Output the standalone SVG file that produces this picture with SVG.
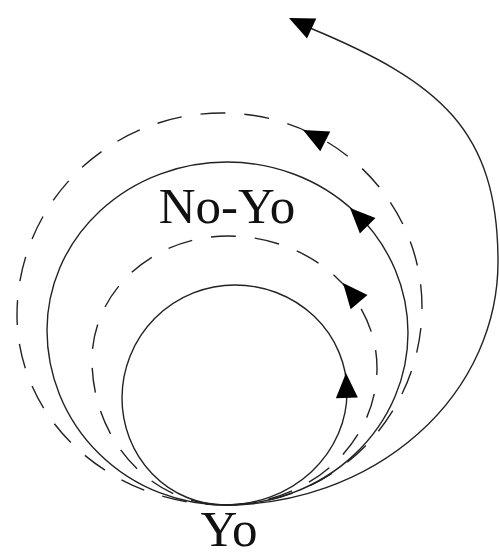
<svg xmlns="http://www.w3.org/2000/svg" xmlns:xlink="http://www.w3.org/1999/xlink" width="500" height="558" viewBox="0 0 500 558">
<style>
.ln{fill:none;stroke:#222;stroke-width:1.4}
.ds{stroke-dasharray:25 19}
.ah{fill:#000}
.lbl{font-family:"Liberation Serif","Times New Roman",serif;font-size:51px;fill:#111;text-anchor:middle}
</style>
<defs>
<path id="ah" d="M0,0 L-25,-11 L-25,11 Z"/>
</defs>
<rect width="500" height="558" fill="#fff"/>
<g id="connectors">
<path id="inner-solid" class="ln" d="M225,505 A122,113 0 0 0 347,392 A112,107 0 0 0 235,285 A113,113 0 0 0 122,398 A103,107 0 0 0 225,505"/>
<path id="inner-dashed" class="ln ds" d="M225,505 A152,137 0 0 0 377,368 A149,132 0 0 0 228,236 A136,124 0 0 0 92,360 A133,145 0 0 0 225,505"/>
<path id="middle-solid" class="ln" d="M225,505 A183,172 0 0 0 408,333 A181,171 0 0 0 227,162 A180,168 0 0 0 47,330 A178,175 0 0 0 225,505"/>
<path id="outer-dashed" class="ln ds" d="M225,505 A197,198 0 0 0 422,307 A200,194 0 0 0 222,113 A205,202 0 0 0 17,315 A208,190 0 0 0 225,505"/>
<path id="outer-solid" class="ln" d="M225,505 A273,243 0 0 0 498,262 C498,130 440,82 310,28"/>
<use href="#ah" class="ah" transform="translate(346,373) rotate(-92)"/>
<use href="#ah" class="ah" transform="translate(343,283) rotate(-130)"/>
<use href="#ah" class="ah" transform="translate(350,208) rotate(-135)"/>
<use href="#ah" class="ah" transform="translate(303,130) rotate(-153)"/>
<use href="#ah" class="ah" transform="translate(289,18) rotate(-155)"/>
</g>
<g id="node-noyo">
<text class="lbl" x="227" y="223">No-Yo</text>
</g>
<g id="node-yo">
<text class="lbl" x="229" y="546">Yo</text>
</g>
</svg>
